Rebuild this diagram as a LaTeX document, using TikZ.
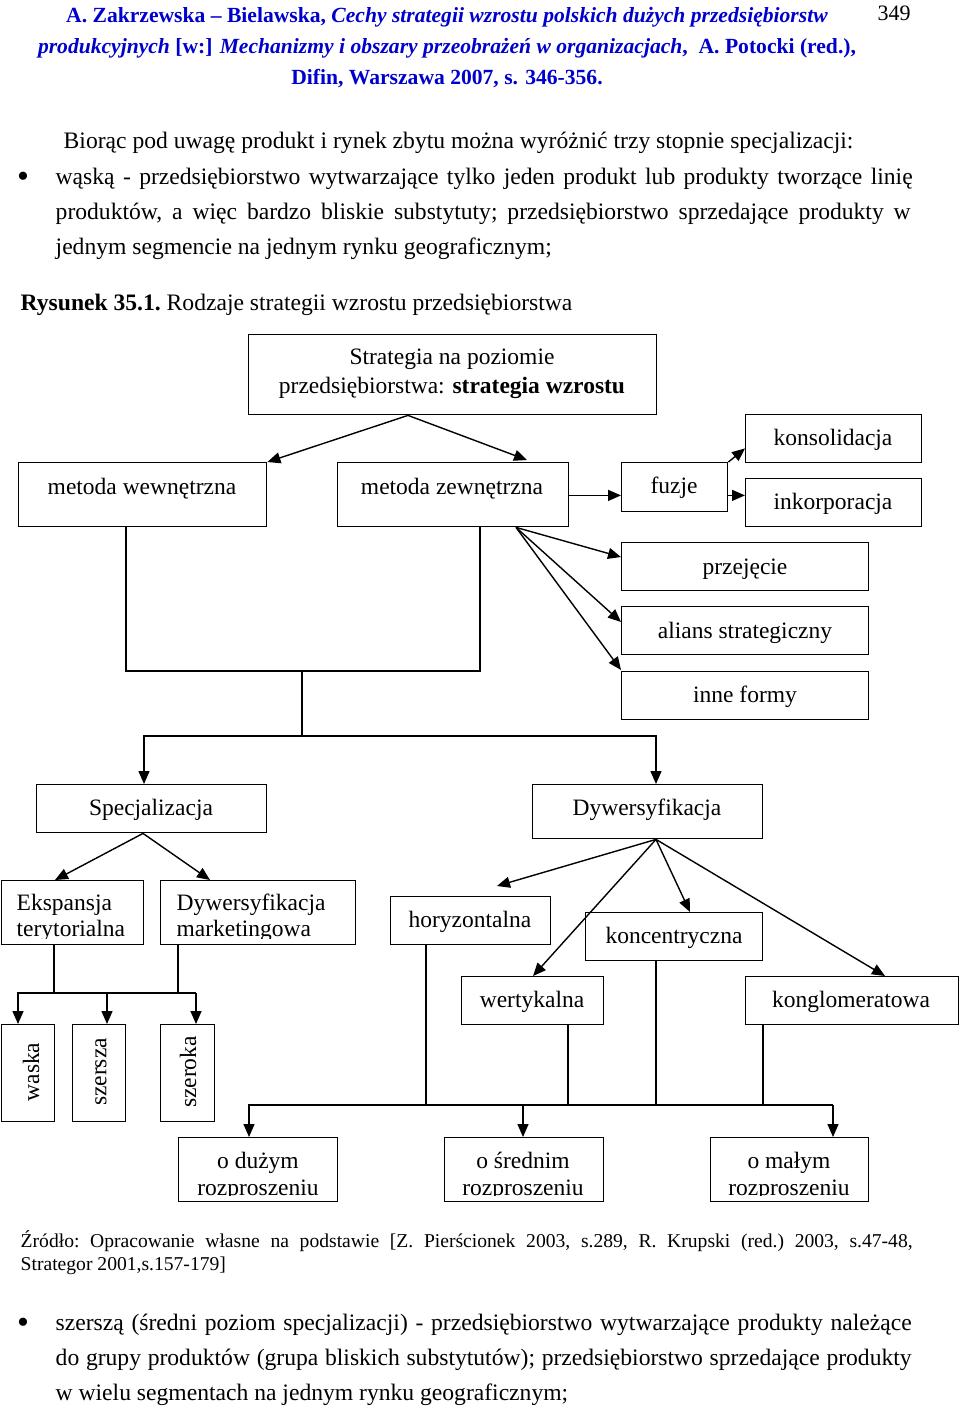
\documentclass[tikz,border=0pt]{standalone}
\usepackage{fontspec}
\setmainfont{Liberation Serif}
\usetikzlibrary{arrows.meta,calc}
\definecolor{hblue}{RGB}{0,0,204}
\newcommand\bfontx{\fontsize{23.6}{35}\selectfont\frenchspacing}
\newcommand\dfontx{\fontsize{23.5}{27}\selectfont}
\newcommand\hfontx{\fontsize{21.6}{31}\selectfont\bfseries}
\newcommand\sfontx{\fontsize{19.6}{23}\selectfont\frenchspacing}
\newcommand\rbox[5]{\node[box, minimum width={(#4-#2)*1pt}, minimum height={(#5-#3)*1pt}] (#1) at (#2,#3) {};}
\begin{document}
\begin{tikzpicture}[x=1pt,y=-1pt, line width=1.4pt,
  box/.style={draw, inner sep=0pt, anchor=north west},
  lbl/.style={inner sep=0pt, font=\dfontx},
  txt/.style={inner sep=0pt, anchor=base west, font=\bfontx},
  bul/.style={inner sep=0pt, anchor=center, font=\fontsize{34}{34}\selectfont},
  arr/.style={-{Triangle[length=13pt,width=11pt]}},
  ]
\useasboundingbox (0,0) rectangle (960,1406);
% header
\node[inner sep=0pt, anchor=base, font=\hfontx, text=hblue] (h1) at (447,22) {A. Zakrzewska – Bielawska, \textit{Cechy strategii wzrostu polskich dużych przedsiębiorstw}};
\node[inner sep=0pt, anchor=base, font=\hfontx, text=hblue] (h2) at (447,53) {\textit{produkcyjnych} [w:] \textit{Mechanizmy i obszary przeobrażeń w organizacjach}, \ A. Potocki (red.),};
\node[inner sep=0pt, anchor=base, font=\hfontx, text=hblue] (h3) at (447,84) {Difin, Warszawa 2007, s. 346-356.};
\node[inner sep=0pt, anchor=base, font=\fontsize{22}{26}\selectfont] (pg) at (894,20) {349};
% intro text
\node[txt] (intro) at (63,148) {Biorąc pod uwagę produkt i rynek zbytu można wyróżnić trzy stopnie specjalizacji:};
\node[bul] (bul1) at (23,180) {•};
\node[txt] (p1a) at (55,184) {\makebox[857pt][s]{wąską - przedsiębiorstwo wytwarzające tylko jeden produkt lub produkty tworzące linię}};
\node[txt] (p1b) at (55,219) {\makebox[855pt][s]{produktów, a więc bardzo bliskie substytuty; przedsiębiorstwo sprzedające produkty w}};
\node[txt] (p1c) at (55,254) {jednym segmencie na jednym rynku geograficznym;};
\node[txt] (cap) at (20,310) {\textbf{Rysunek 35.1.} Rodzaje strategii wzrostu przedsiębiorstwa};
% boxes
\rbox{str}{248}{334}{656}{414}
\rbox{mw}{18}{462}{266}{526}
\rbox{mz}{337}{462}{568}{526}
\rbox{fz}{621}{462}{727}{511}
\rbox{kon}{745}{414}{921}{462}
\rbox{ink}{745}{478}{921}{526}
\rbox{prz}{621}{542}{868}{590}
\rbox{ali}{621}{606}{868}{654}
\rbox{inn}{621}{671}{868}{719}
\rbox{spe}{36}{784}{266}{832}
\rbox{dyw}{532}{784}{762}{838}
\rbox{eks}{1}{880}{143}{944}
\rbox{dm}{160}{880}{355}{944}
\rbox{hor}{390}{896}{550}{944}
\rbox{kc}{585}{912}{762}{960}
\rbox{wer}{461}{976}{603}{1024}
\rbox{kgl}{745}{976}{958}{1024}
\rbox{wa}{1}{1024}{54}{1121}
\rbox{sz}{72}{1024}{125}{1121}
\rbox{szr}{160}{1024}{214}{1121}
\rbox{od}{178}{1137}{337}{1201}
\rbox{os}{444}{1137}{603}{1201}
\rbox{om}{710}{1137}{868}{1201}
% box texts
\node[lbl, align=center, font=\fontsize{23.5}{29}\selectfont] (strt) at (452,374) {Strategia na poziomie\\przedsiębiorstwa: \textbf{strategia wzrostu}};
\node[lbl] (mwt) at (142,489) {metoda wewnętrzna};
\node[lbl] (mzt) at (452,489) {metoda zewnętrzna};
\node[lbl] (fzt) at (674,488) {fuzje};
\node[lbl] (kont) at (833,440) {konsolidacja};
\node[lbl] (inkt) at (833,504) {inkorporacja};
\node[lbl] (przt) at (745,569) {przejęcie};
\node[lbl] (alit) at (745,633) {alians strategiczny};
\node[lbl] (innt) at (745,697) {inne formy};
\node[lbl] (spet) at (151,810) {Specjalizacja};
\node[lbl] (dywt) at (647,810) {Dywersyfikacja};
\begin{scope}
\clip (eks.north west) rectangle ($(eks.south east)+(0,-7)$);
\node[lbl, align=left, font=\fontsize{23.5}{26}\selectfont, anchor=west] (ekst) at (16,918) {Ekspansja\\terytorialna};
\end{scope}
\begin{scope}
\clip (dm.north west) rectangle ($(dm.south east)+(0,-7)$);
\node[lbl, align=left, font=\fontsize{23.5}{26}\selectfont, anchor=west] (dmt) at (176,918) {Dywersyfikacja\\marketingowa};
\end{scope}
\node[lbl] (hort) at (470,922) {horyzontalna};
\node[lbl] (kct) at (674,938) {koncentryczna};
\node[lbl] (wert) at (532,1002) {wertykalna};
\node[lbl] (kglt) at (851,1002) {konglomeratowa};
\node[lbl, rotate=90] (wat) at (31,1072) {waska};
\node[lbl, rotate=90] (szt) at (101,1072) {szersza};
\node[lbl, rotate=90] (szrt) at (188,1072) {szeroka};
\begin{scope}
\clip (od.north west) rectangle ($(od.south east)+(0,-7)$);
\node[lbl, align=center] (odt) at (258,1176) {o dużym\\rozproszeniu};
\end{scope}
\begin{scope}
\clip (os.north west) rectangle ($(os.south east)+(0,-7)$);
\node[lbl, align=center] (ost) at (523,1176) {o średnim\\rozproszeniu};
\end{scope}
\begin{scope}
\clip (om.north west) rectangle ($(om.south east)+(0,-7)$);
\node[lbl, align=center] (omt) at (789,1176) {o małym\\rozproszeniu};
\end{scope}
% connectors upper part
\coordinate (strb) at ($(str.south west)+(160,0)$);
\draw[arr] (strb) -- (mw.north east);
\draw[arr] (strb) -- ($(mz.north west)+(190,-2)$);
\draw[arr] ($(mz.south east)+(0,-32)$) -- ($(fz.west |- mz.south east)+(0,-32)$);
\draw[arr] (fz.north east) -- ($(kon.south west)+(0,-15)$);
\draw[arr] ($(fz.east |- mz.south east)+(0,-32)$) -- ($(ink.west |- mz.south east)+(0,-32)$);
\coordinate (mzb) at ($(mz.south west)+(179,0)$);
\draw[arr] (mzb) -- ($(prz.north west)+(0,15)$);
\draw[arr] (mzb) -- ($(ali.north west)+(0,16)$);
\draw[arr] (mzb) -- ($(inn.north west)+(0,-1)$);
% merge of methods
\coordinate (mj) at (302,671);
\coordinate (sj) at (302,736);
\draw ($(mw.south west)+(108,0)$) |- (mj) -| ($(mz.south west)+(143,0)$);
\draw (mj) -- (sj);
\draw[arr] (sj) -| ($(spe.north west)+(108,0)$);
\draw[arr] (sj) -| ($(dyw.north west)+(124,0)$);
% specialisation
\coordinate (speb) at ($(spe.south west)+(107,0)$);
\draw[arr] (speb) -- ($(eks.north west)+(54,0)$);
\draw[arr] (speb) -- ($(dm.north west)+(50,0)$);
% diversification
\coordinate (dywb) at ($(dyw.south west)+(124,0)$);
\coordinate (horp) at ($(hor.north west)+(107,-10)$);
\draw[arr] (dywb) -- (horp);
\draw[arr] (dywb) -- ($(wer.north west)+(72,0)$);
\draw[arr] (dywb) -- ($(kc.north west)+(105,0)$);
\draw[arr] (dywb) -- ($(kgl.north west)+(140,0)$);
% lower left
\coordinate (ll) at ($(szr.north west)+(36,-31)$);
\draw ($(eks.south west)+(53,0)$) -- ($(eks.south west)+(53,49)$);
\draw ($(dm.south west)+(18,0)$) -- ($(dm.south west)+(18,49)$);
\draw[arr] (ll) -| ($(wa.north west)+(17,0)$);
\draw[arr] (ll) -- ($(szr.north west)+(36,0)$);
\draw[arr] ($(sz.north west)+(35,-31)$) -- ($(sz.north west)+(35,0)$);
% lower right
\draw ($(hor.south west)+(36,0)$) -- ($(hor.south west)+(36,161)$);
\draw ($(wer.south west)+(107,0)$) -- ($(wer.south west)+(107,81)$);
\draw ($(kc.south west)+(71,0)$) -- ($(kc.south west)+(71,145)$);
\draw ($(kgl.south west)+(18,0)$) -- ($(kgl.south west)+(18,81)$);
\coordinate (br) at ($(om.north west)+(123,-32)$);
\draw[arr] (br) -| ($(od.north west)+(71,0)$);
\draw[arr] (br) -- ($(om.north west)+(123,0)$);
\draw[arr] ($(os.north west)+(79,-32)$) -- ($(os.north west)+(79,0)$);
% source
\node[txt, font=\sfontx] (src1) at (20,1247) {\makebox[892pt][s]{Źródło: Opracowanie własne na podstawie [Z. Pierścionek 2003, s.289, R. Krupski (red.) 2003, s.47-48,}};
\node[txt, font=\sfontx] (src2) at (20,1270) {Strategor 2001,s.157-179]};
% final bullet
\node[bul] (bul2) at (23,1326) {•};
\node[txt] (p2a) at (55,1330) {\makebox[856pt][s]{szerszą (średni poziom specjalizacji) - przedsiębiorstwo wytwarzające produkty należące}};
\node[txt] (p2b) at (55,1365) {\makebox[856pt][s]{do grupy produktów (grupa bliskich substytutów); przedsiębiorstwo sprzedające produkty}};
\node[txt] (p2c) at (55,1400) {w wielu segmentach na jednym rynku geograficznym;};
\end{tikzpicture}
\end{document}
